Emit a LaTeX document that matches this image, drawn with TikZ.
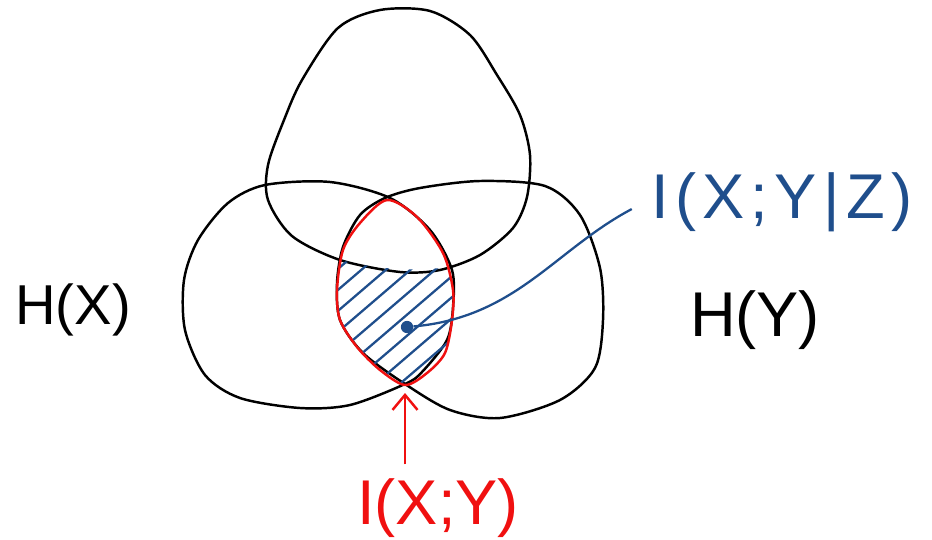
\documentclass[tikz,border=0pt]{standalone}
\usepackage{fontspec}
\setmainfont{Liberation Sans}
\newfontfamily\widehand[LetterSpace=10]{Liberation Sans}
\usetikzlibrary{arrows.meta}
\definecolor{inkblue}{HTML}{1F4E8C}
\definecolor{inkred}{HTML}{F01010}

\begin{document}
\begin{tikzpicture}[x=0.02cm, y=-0.02cm, >={Straight Barb[length=3mm,width=5mm]},
  every node/.style={font=\fontsize{36}{40}\selectfont},
  blob/.style={line width=1.4pt, line join=round},
  hatchline/.style={inkblue, line width=1.3pt, line cap=round}]
\useasboundingbox (0,0) rectangle (932,540);
% the three entropies
\draw[blob] plot[smooth cycle] coordinates {(380,10) (430,11) (470,35) (497,75) (520,115) (530,155) (527,197) (513,228) (480,255) (440,270) (400,272) (340,260) (292,236) (268,200) (268,165) (284,120) (302,80) (338,28)};
\draw[blob] plot[smooth cycle] coordinates {(265,185) (330,182) (390,198) (430,230) (452,270) (453,307) (447,340) (422,372) (405,384) (350,405) (300,408) (240,398) (205,375) (185,330) (184,280) (198,240) (228,203)};
\draw[blob] plot[smooth cycle] coordinates {(360,215) (385,198) (420,188) (480,181) (545,186) (580,215) (600,268) (603,320) (595,368) (560,400) (500,418) (450,410) (405,384) (363,353) (340,320) (337,283) (343,247)};
% shaded part: inside both H(X), H(Y) but below the top blob
\begin{scope}
\clip plot[smooth cycle] coordinates {(387,200) (417,217) (443,253) (453,290) (452,320) (445,353) (427,373) (405,385) (380,370) (357,347) (340,320) (337,290) (343,250) (360,223)};
\clip (300,600) -- (300,236) -- (340,260) .. controls (380,270) and (420,273) .. (470,264) -- (520,240) -- (520,600) -- cycle;
\foreach \k in {0,...,9}
  \draw[hatchline] (325,280+21*\k) -- (465,160+21*\k);
\end{scope}
\draw[inkred, line width=1.4pt] plot[smooth cycle] coordinates {(387,200) (417,217) (443,253) (453,290) (452,320) (445,353) (427,373) (405,385) (380,370) (357,347) (340,320) (337,290) (343,250) (360,223)};
\coordinate (lensbot) at (405,393);
\node[circle, fill=inkblue, inner sep=0pt, minimum size=7pt] (dot) at (407,327) {};
% labels
\node[font=\fontsize{32}{36}\selectfont] (hx) at (73,310) {H(X)};
\node (hy) at (755,320) {H(Y)};
\node[inkblue, anchor=west, font=\widehand\fontsize{36}{40}\selectfont] (izy) at (645,202) {I(X;Y|Z)};
\node[inkred] (ixy) at (438,508) {I(X;Y)};
% connectors
\draw[inkblue, line width=1.3pt, shorten >=0.3cm] (dot) to[out=5, in=208] (izy.west);
\draw[inkred, line width=1.4pt, ->] (ixy.north -| lensbot) ++(0,-8) -- (lensbot);
\end{tikzpicture}
\end{document}
